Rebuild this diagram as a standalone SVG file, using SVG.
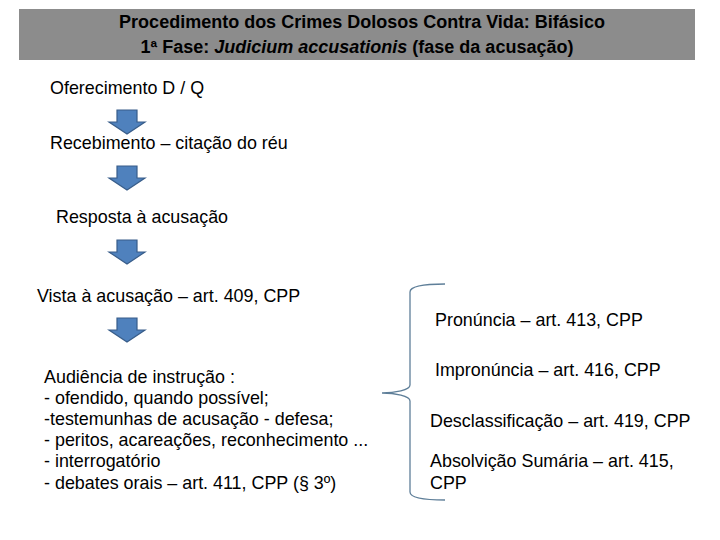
<svg xmlns="http://www.w3.org/2000/svg" width="720" height="540" viewBox="0 0 720 540">
<style>
text{font-family:"Liberation Sans",Arial,sans-serif;font-size:17.9px;fill:#000}
.h{font-weight:bold;font-size:18px}
.arr{fill:#4f81bd;stroke:#385d8a;stroke-width:1.2}
</style>
<defs><path id="a" class="arr" d="M-10,0 H10 V12 H18 L0,24 L-18,12 H-10 Z"/></defs>
<rect x="19" y="9" width="676" height="51" fill="#8c8c8c"/>
<text class="h" x="362" y="28" text-anchor="middle">Procedimento dos Crimes Dolosos Contra Vida: Bifásico</text>
<text class="h" x="357" y="53" text-anchor="middle">1ª Fase: <tspan font-style="italic">Judicium accusationis</tspan> (fase da acusação)</text>
<g id="connectors">
<use href="#a" x="127" y="110"/>
<use href="#a" x="127" y="166"/>
<use href="#a" x="127" y="240"/>
<use href="#a" x="127" y="318"/>
<path d="M445,284 C425,284 410,286 410,292 V385 C410,390 395,393 382,393 C395,393 410,396 410,401 V492 C410,498 425,500 445,500" fill="none" stroke="#5f7f99" stroke-width="1.3"/>
</g>
<g id="n1"><text x="50" y="94">Oferecimento  D / Q</text></g>
<g id="n2"><text x="50" y="149">Recebimento – citação do réu</text></g>
<g id="n3"><text x="56" y="223">Resposta à acusação</text></g>
<g id="n4"><text x="37" y="302">Vista à acusação – art. 409, CPP</text></g>
<g id="n5"><text x="44" y="383">Audiência de instrução :</text><text x="44" y="404">- ofendido, quando possível;</text><text x="44" y="425">-testemunhas de acusação - defesa;</text><text x="44" y="446">- peritos, acareações, reconhecimento ...</text><text x="44" y="467">- interrogatório</text><text x="44" y="489">- debates orais – art. 411, CPP (§ 3º)</text></g>
<g id="r1"><text x="435" y="326">Pronúncia – art. 413, CPP</text></g>
<g id="r2"><text x="435" y="376">Impronúncia – art. 416, CPP</text></g>
<g id="r3"><text x="430" y="427">Desclassificação – art. 419, CPP</text></g>
<g id="r4"><text x="430" y="467">Absolvição Sumária – art. 415,</text><text x="430" y="489">CPP</text></g>
</svg>
